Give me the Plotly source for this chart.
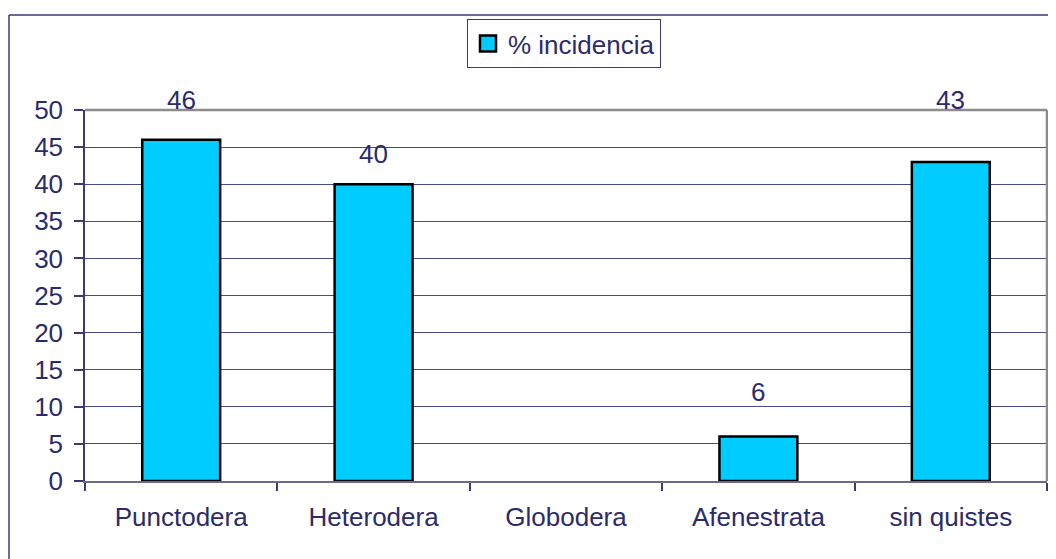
import plotly.graph_objects as go

categories = ["Punctodera", "Heterodera", "Globodera", "Afenestrata", "sin quistes"]
incidencia = [46, 40, None, 6, 43]
label_texts = ["46", "40", "", "6", "43"]
label_shift_px = [40, 30, 0, 44, 62]
y_ticks = [0, 5, 10, 15, 20, 25, 30, 35, 40, 45, 50]

TXT = "#2B2B6B"
GRID = "#4A4A8A"
FONT = "Liberation Sans, Arial, sans-serif"
FS = 26
OFF = 8  # page body margin

fig = go.Figure()
fig.add_trace(go.Bar(
    x=categories, y=incidencia, name="% incidencia", showlegend=False,
    marker=dict(color="#00CCFF", line=dict(color="#000000", width=2.5)),
    width=0.405,
))
# legend entry with a larger square key (no plotted points)
fig.add_trace(go.Scatter(
    x=[None], y=[None], mode="markers", name="% incidencia",
    marker=dict(symbol="square", size=17, color="#00CCFF",
                line=dict(color="#000000", width=2.5)),
))

for c, v, t, s in zip(categories, incidencia, label_texts, label_shift_px):
    if v is None or t == "":
        continue
    fig.add_annotation(x=c, y=v, text=t, showarrow=False, yshift=s,
                       yanchor="middle", xanchor="center",
                       font=dict(family=FONT, size=FS, color=TXT))

L, R, T, B = 85, 1047, 110, 481  # plot area on screen
W_PLOT = R - L
H_PLOT = B - T
def px_x(px):
    return (px - L) / W_PLOT
def px_y(py):
    return (B - py) / H_PLOT

# outer chart frame (cut off at right and bottom)
fig.add_shape(type="line", xref="paper", yref="paper",
              x0=px_x(9), x1=px_x(1075), y0=px_y(15), y1=px_y(15),
              line=dict(color="#3A3A78", width=1.5))
fig.add_shape(type="line", xref="paper", yref="paper",
              x0=px_x(9), x1=px_x(9), y0=px_y(15), y1=px_y(580),
              line=dict(color="#3A3A78", width=1.5))
# plot-area grey border top & right
fig.add_shape(type="line", xref="paper", yref="paper",
              x0=0, x1=1, y0=1, y1=1, line=dict(color="#8C8C8C", width=2.5))
fig.add_shape(type="line", xref="paper", yref="paper",
              x0=1, x1=1, y0=0, y1=1, line=dict(color="#8C8C8C", width=2.5))

fig.update_layout(
    width=1056, height=559,
    margin=dict(l=L - OFF, r=1056 - (R - OFF), t=T - OFF, b=559 - (B - OFF),
                autoexpand=False),
    paper_bgcolor="white", plot_bgcolor="white",
    font=dict(family=FONT, size=FS, color=TXT),
    showlegend=True,
    legend=dict(x=px_x(467), y=px_y(19), xanchor="left", yanchor="top",
                bordercolor="#3A3A78", borderwidth=1, bgcolor="white",
                font=dict(family=FONT, size=FS, color=TXT)),
    bargap=0.595,
    xaxis=dict(type="category", categoryorder="array", categoryarray=categories,
               tickson="boundaries", ticks="outside", ticklen=8, tickwidth=1.5,
               tickcolor="#3A3A78", showline=True, linecolor="#6A6A8A", linewidth=2,
               showgrid=False, ticklabelstandoff=12, automargin=False,
               tickfont=dict(family=FONT, size=FS, color=TXT)),
    yaxis=dict(range=[0, 50], tickvals=y_ticks, ticks="outside", ticklen=9,
               tickwidth=1.5, tickcolor="#3A3A78", showline=True,
               linecolor="#3A3A78", linewidth=1.5, showgrid=True,
               gridcolor=GRID, gridwidth=1, zeroline=False,
               ticklabelstandoff=6, automargin=False,
               tickfont=dict(family=FONT, size=FS, color=TXT)),
)

fig.write_html("out.html")
